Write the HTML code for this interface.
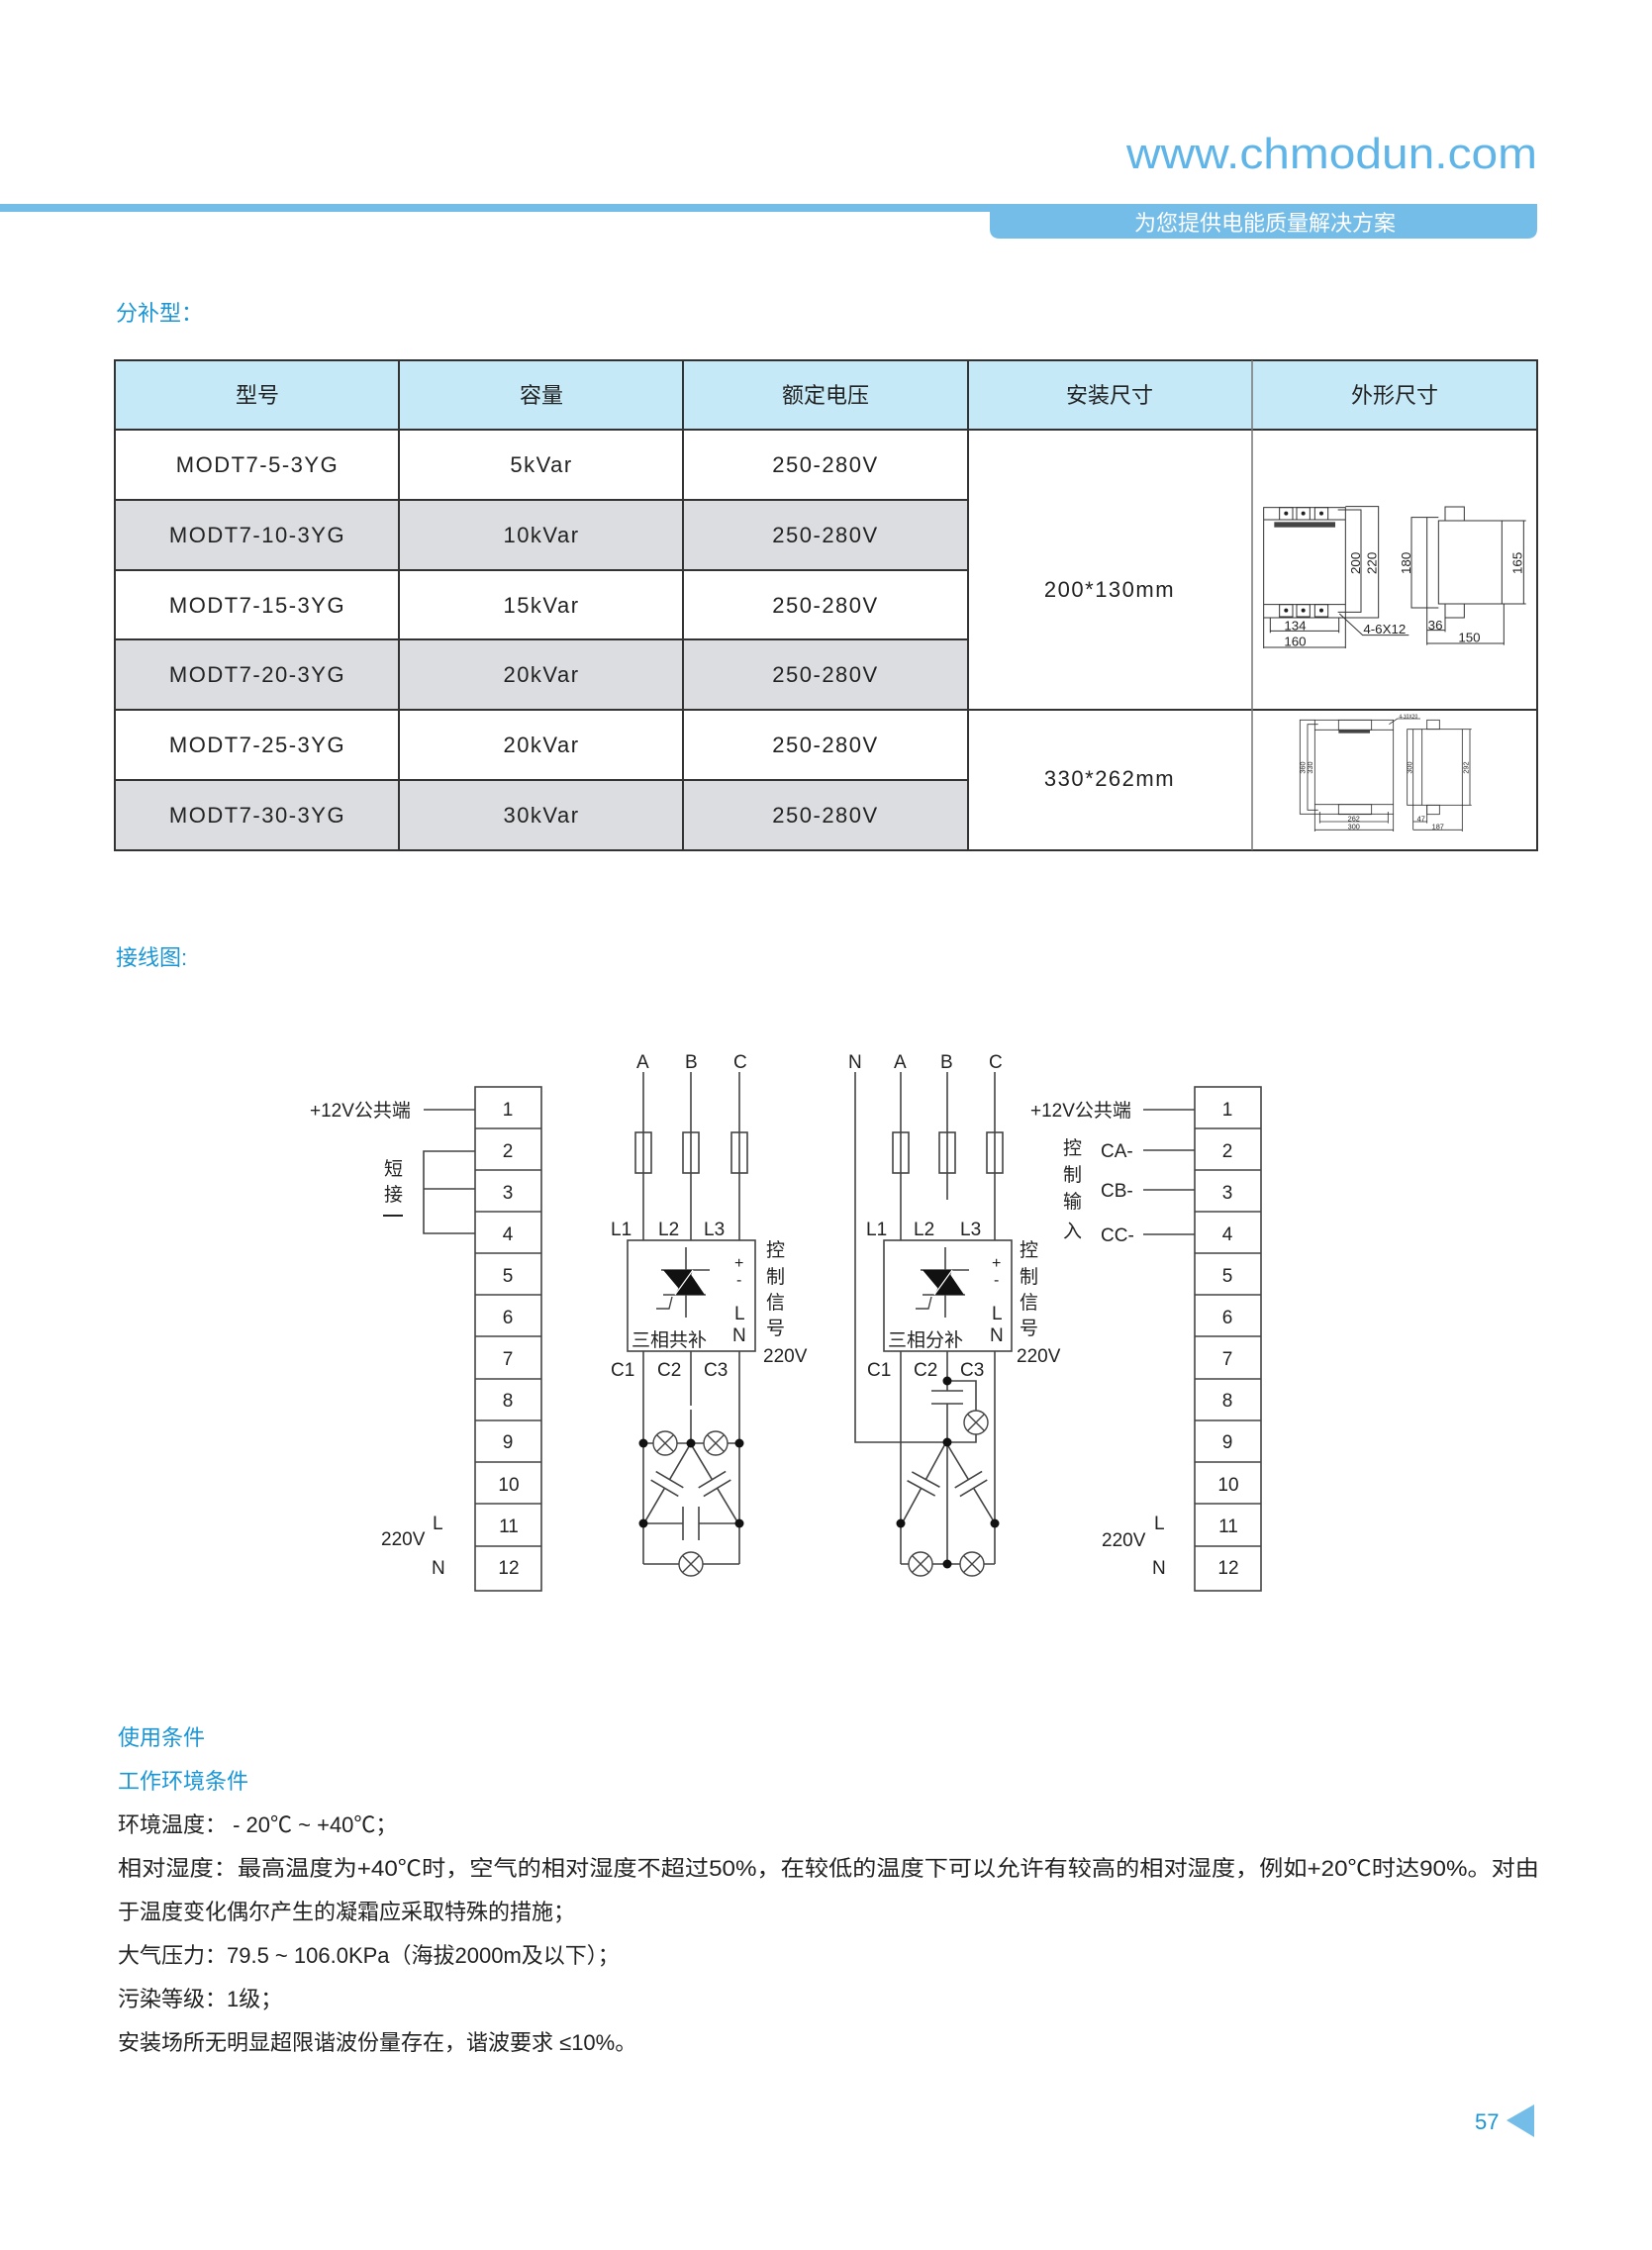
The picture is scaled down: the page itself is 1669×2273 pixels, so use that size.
<!DOCTYPE html>
<html><head><meta charset="utf-8"><style>
html,body{margin:0;padding:0;background:#fff;}
svg{display:block;}
text{font-family:"Liberation Sans","Noto Sans CJK SC",sans-serif;}
</style></head><body>
<svg width="1669" height="2273" viewBox="0 0 1669 2273" xmlns="http://www.w3.org/2000/svg">
<!-- header -->
<text x="1553" y="170" font-size="44" fill="#5fb5e8" text-anchor="end" textLength="415" lengthAdjust="spacingAndGlyphs">www.chmodun.com</text>
<rect x="0" y="206" width="1553" height="8" fill="#74bde8"/>
<path d="M1000 206 H1553 V231 Q1553 241 1543 241 H1010 Q1000 241 1000 231 Z" fill="#74bde8"/>
<text x="1278" y="233" font-size="22" fill="#fff" text-anchor="middle">为您提供电能质量解决方案</text>

<text x="117" y="324" font-size="22" fill="#1a96d6">分补型：</text>

<!-- table -->
<rect x="116" y="364" width="1437" height="70" fill="#c6e9f8"/>
<rect x="116" y="505" width="862" height="71" fill="#dcdde0"/>
<rect x="116" y="646" width="862" height="71" fill="#dcdde0"/>
<rect x="116" y="788" width="862" height="71" fill="#dcdde0"/>
<g stroke="#333" stroke-width="2" fill="none">
<rect x="116" y="364" width="1437" height="495"/>
<line x1="116" y1="434" x2="1553" y2="434"/>
<line x1="116" y1="505" x2="978" y2="505"/>
<line x1="116" y1="576" x2="978" y2="576"/>
<line x1="116" y1="646" x2="978" y2="646"/>
<line x1="116" y1="717" x2="1553" y2="717"/>
<line x1="116" y1="788" x2="978" y2="788"/>
<line x1="403" y1="364" x2="403" y2="859"/>
<line x1="690" y1="364" x2="690" y2="859"/>
<line x1="978" y1="364" x2="978" y2="859"/>
<line x1="1265" y1="364" x2="1265" y2="859" stroke-width="1.5" stroke="#777"/>
</g>
<g font-size="22" fill="#222" text-anchor="middle">
<text x="260" y="407">型号</text><text x="547" y="407">容量</text><text x="834" y="407">额定电压</text><text x="1121" y="407">安装尺寸</text><text x="1409" y="407">外形尺寸</text>
</g>
<g font-size="22" fill="#222" text-anchor="middle" letter-spacing="1.5">
<text x="260" y="477">MODT7-5-3YG</text><text x="547" y="477">5kVar</text><text x="834" y="477">250-280V</text>
<text x="260" y="548">MODT7-10-3YG</text><text x="547" y="548">10kVar</text><text x="834" y="548">250-280V</text>
<text x="260" y="619">MODT7-15-3YG</text><text x="547" y="619">15kVar</text><text x="834" y="619">250-280V</text>
<text x="260" y="689">MODT7-20-3YG</text><text x="547" y="689">20kVar</text><text x="834" y="689">250-280V</text>
<text x="260" y="760">MODT7-25-3YG</text><text x="547" y="760">20kVar</text><text x="834" y="760">250-280V</text>
<text x="260" y="831">MODT7-30-3YG</text><text x="547" y="831">30kVar</text><text x="834" y="831">250-280V</text>
<text x="1121" y="603">200*130mm</text>
<text x="1121" y="794">330*262mm</text>
</g>

<!-- drawing 1 -->
<svg x="1260" y="500" width="300" height="180" viewBox="0 0 900 540">
<g stroke="#333" stroke-width="3" fill="none">
<rect x="50" y="38" width="248" height="334"/>
<line x1="50" y1="75" x2="298" y2="75"/><line x1="50" y1="332" x2="298" y2="332"/>
<rect x="98" y="38" width="40" height="37"/><rect x="150" y="38" width="40" height="37"/><rect x="205" y="38" width="40" height="37"/>
<rect x="98" y="332" width="40" height="37"/><rect x="150" y="332" width="40" height="37"/><rect x="205" y="332" width="40" height="37"/>
<polyline points="275,45 345,45 345,355 275,355"/>
<polyline points="298,35 398,35 398,372 298,372"/>
<line x1="70" y1="372" x2="70" y2="418"/><line x1="278" y1="372" x2="278" y2="418"/><line x1="70" y1="412" x2="278" y2="412"/>
<line x1="50" y1="372" x2="50" y2="465"/><line x1="298" y1="372" x2="298" y2="465"/><line x1="50" y1="462" x2="298" y2="462"/>
<polyline points="280,360 350,425 490,425"/>
<rect x="580" y="78" width="192" height="252"/>
<rect x="600" y="36" width="58" height="42"/><rect x="600" y="330" width="58" height="42"/>
<polyline points="580,68 498,68 498,342 580,342"/>
<line x1="545" y1="68" x2="545" y2="455"/>
<line x1="772" y1="78" x2="845" y2="78"/><line x1="772" y1="330" x2="845" y2="330"/><line x1="838" y1="78" x2="838" y2="330"/>
<line x1="545" y1="410" x2="600" y2="410"/><line x1="600" y1="372" x2="600" y2="415"/>
<line x1="545" y1="450" x2="778" y2="450"/><line x1="778" y1="330" x2="778" y2="455"/>
</g>
<rect x="82" y="82" width="185" height="16" fill="#444"/>
<g fill="#222"><circle cx="118" cy="56" r="6"/><circle cx="170" cy="56" r="6"/><circle cx="225" cy="56" r="6"/><circle cx="118" cy="350" r="6"/><circle cx="170" cy="350" r="6"/><circle cx="225" cy="350" r="6"/></g>
<g font-size="40" fill="#222">
<text x="112" y="410">134</text><text x="112" y="458">160</text><text x="352" y="420">4-6X12</text><text x="548" y="408">36</text><text x="640" y="446">150</text>
<text transform="translate(342,240) rotate(-90)">200</text><text transform="translate(392,240) rotate(-90)">220</text>
<text transform="translate(495,240) rotate(-90)">180</text><text transform="translate(832,240) rotate(-90)">165</text>
</g>
</svg>

<!-- drawing 2 -->
<svg x="1265" y="710" width="290" height="145" viewBox="0 0 870 435">
<g stroke="#333" stroke-width="2.5" fill="none">
<rect x="190" y="52" width="238" height="285"/>
<line x1="190" y1="82" x2="428" y2="82"/><line x1="190" y1="308" x2="428" y2="308"/>
<rect x="262" y="52" width="100" height="30"/><rect x="262" y="308" width="100" height="30"/>
<polyline points="200,65 168,65 168,325 200,325"/>
<polyline points="190,52 145,52 145,337 190,337"/>
<line x1="205" y1="360" x2="412" y2="360"/><line x1="205" y1="330" x2="205" y2="365"/><line x1="412" y1="330" x2="412" y2="365"/>
<line x1="190" y1="385" x2="428" y2="385"/><line x1="190" y1="337" x2="190" y2="390"/><line x1="428" y1="337" x2="428" y2="390"/>
<polyline points="415,65 440,48 510,48"/>
<rect x="515" y="80" width="122" height="230"/>
<rect x="530" y="52" width="38" height="28"/><rect x="530" y="310" width="38" height="28"/>
<polyline points="515,80 470,80 470,310 515,310"/>
<line x1="488" y1="80" x2="488" y2="385"/>
<line x1="637" y1="80" x2="665" y2="80"/><line x1="637" y1="310" x2="665" y2="310"/><line x1="660" y1="80" x2="660" y2="310"/>
<line x1="488" y1="385" x2="637" y2="385"/><line x1="637" y1="310" x2="637" y2="390"/>
<line x1="488" y1="360" x2="530" y2="360"/><line x1="530" y1="310" x2="530" y2="365"/>
</g>
<rect x="262" y="82" width="95" height="10" fill="#444"/>
<g font-size="22" fill="#222">
<text x="290" y="358">262</text><text x="290" y="383">300</text><text x="500" y="358">47</text><text x="545" y="383">187</text><text x="445" y="46" font-size="15">4-10X20</text>
<text transform="translate(160,215) rotate(-90)">360</text><text transform="translate(183,215) rotate(-90)">330</text>
<text transform="translate(485,215) rotate(-90)">300</text><text transform="translate(655,215) rotate(-90)">292</text>
</g>
</svg>

<text x="117" y="975" font-size="22" fill="#1a96d6">接线图:</text>

<!-- wiring diagram -->
<g stroke="#444" stroke-width="1.6" fill="none">
<rect x="480" y="1098" width="67" height="509"/>
<line x1="480" y1="1140" x2="547" y2="1140"/><line x1="480" y1="1182" x2="547" y2="1182"/><line x1="480" y1="1224" x2="547" y2="1224"/>
<line x1="480" y1="1266" x2="547" y2="1266"/><line x1="480" y1="1308" x2="547" y2="1308"/><line x1="480" y1="1350" x2="547" y2="1350"/>
<line x1="480" y1="1393" x2="547" y2="1393"/><line x1="480" y1="1435" x2="547" y2="1435"/><line x1="480" y1="1477" x2="547" y2="1477"/>
<line x1="480" y1="1519" x2="547" y2="1519"/><line x1="480" y1="1562" x2="547" y2="1562"/>
<line x1="428" y1="1121" x2="480" y2="1121"/>
<polyline points="480,1163 428,1163 428,1246 480,1246"/><line x1="428" y1="1201" x2="480" y2="1201"/>
<rect x="1207" y="1098" width="67" height="509"/>
<line x1="1207" y1="1140" x2="1274" y2="1140"/><line x1="1207" y1="1182" x2="1274" y2="1182"/><line x1="1207" y1="1224" x2="1274" y2="1224"/>
<line x1="1207" y1="1266" x2="1274" y2="1266"/><line x1="1207" y1="1308" x2="1274" y2="1308"/><line x1="1207" y1="1350" x2="1274" y2="1350"/>
<line x1="1207" y1="1393" x2="1274" y2="1393"/><line x1="1207" y1="1435" x2="1274" y2="1435"/><line x1="1207" y1="1477" x2="1274" y2="1477"/>
<line x1="1207" y1="1519" x2="1274" y2="1519"/><line x1="1207" y1="1562" x2="1274" y2="1562"/>
<line x1="1155" y1="1121" x2="1207" y2="1121"/><line x1="1155" y1="1162" x2="1207" y2="1162"/><line x1="1155" y1="1202" x2="1207" y2="1202"/><line x1="1155" y1="1247" x2="1207" y2="1247"/>

<line x1="650" y1="1083" x2="650" y2="1253"/><line x1="698" y1="1083" x2="698" y2="1253"/><line x1="747" y1="1083" x2="747" y2="1253"/>
<rect x="642" y="1144" width="16" height="41"/><rect x="690" y="1144" width="16" height="41"/><rect x="739" y="1144" width="16" height="41"/>
<rect x="634" y="1253" width="129" height="112"/>
<line x1="650" y1="1365" x2="650" y2="1580"/><line x1="747" y1="1365" x2="747" y2="1580"/>
<line x1="698" y1="1365" x2="698" y2="1420"/><line x1="698" y1="1424" x2="698" y2="1458"/>
<line x1="650" y1="1458" x2="747" y2="1458"/>
<line x1="650" y1="1539" x2="690" y2="1539"/><line x1="706" y1="1539" x2="747" y2="1539"/>
<line x1="690" y1="1522" x2="690" y2="1556"/><line x1="706" y1="1522" x2="706" y2="1556"/>
<line x1="650" y1="1580" x2="747" y2="1580"/>
<g transform="translate(674,1499) rotate(120.3)"><line x1="-47" y1="0" x2="-5" y2="0"/><line x1="5" y1="0" x2="47" y2="0"/><line x1="-5" y1="-16" x2="-5" y2="16"/><line x1="5" y1="-16" x2="5" y2="16"/></g>
<g transform="translate(722,1499) rotate(59.1)"><line x1="-47" y1="0" x2="-5" y2="0"/><line x1="5" y1="0" x2="47" y2="0"/><line x1="-5" y1="-16" x2="-5" y2="16"/><line x1="5" y1="-16" x2="5" y2="16"/></g>

<polyline points="864,1083 864,1457 955,1457"/>
<line x1="910" y1="1083" x2="910" y2="1253"/><line x1="957" y1="1083" x2="957" y2="1212"/><line x1="1005" y1="1083" x2="1005" y2="1253"/>
<rect x="902" y="1144" width="16" height="41"/><rect x="949" y="1144" width="16" height="41"/><rect x="997" y="1144" width="16" height="41"/>
<rect x="893" y="1253" width="129" height="112"/>
<line x1="910" y1="1365" x2="910" y2="1580"/><line x1="1005" y1="1365" x2="1005" y2="1580"/>
<line x1="957" y1="1365" x2="957" y2="1405"/><line x1="957" y1="1418" x2="957" y2="1580"/>
<line x1="941" y1="1405" x2="973" y2="1405"/><line x1="941" y1="1418" x2="973" y2="1418"/>
<polyline points="957,1395 986,1395 986,1425"/><polyline points="986,1449 986,1457 955,1457"/>
<line x1="910" y1="1580" x2="1005" y2="1580"/>
<g transform="translate(933,1499) rotate(118.5)"><line x1="-47" y1="0" x2="-5" y2="0"/><line x1="5" y1="0" x2="47" y2="0"/><line x1="-5" y1="-16" x2="-5" y2="16"/><line x1="5" y1="-16" x2="5" y2="16"/></g>
<g transform="translate(981,1499) rotate(58.9)"><line x1="-47" y1="0" x2="-5" y2="0"/><line x1="5" y1="0" x2="47" y2="0"/><line x1="-5" y1="-16" x2="-5" y2="16"/><line x1="5" y1="-16" x2="5" y2="16"/></g>
</g>

<g id="thy">
<line x1="693" y1="1260" x2="693" y2="1331" stroke="#444" stroke-width="1.6"/>
<line x1="668" y1="1283" x2="717" y2="1283" stroke="#444" stroke-width="1.6"/>
<line x1="670" y1="1308" x2="713" y2="1308" stroke="#444" stroke-width="1.6"/>
<polygon points="670,1283 700,1283 691,1308" fill="#111"/>
<polygon points="695,1283 712,1308 682,1308" fill="#111"/>
<line x1="700" y1="1283" x2="682" y2="1308" stroke="#fff" stroke-width="1.2"/>
<polyline points="679,1310 676,1322 663,1322" stroke="#444" stroke-width="1.4" fill="none"/>
</g>
<use href="#thy" transform="translate(262,0)"/>

<g stroke="#444" stroke-width="1.4" fill="#fff">
<g transform="translate(672,1458)"><circle r="12"/><line x1="-8.5" y1="-8.5" x2="8.5" y2="8.5"/><line x1="-8.5" y1="8.5" x2="8.5" y2="-8.5"/></g>
<g transform="translate(723,1458)"><circle r="12"/><line x1="-8.5" y1="-8.5" x2="8.5" y2="8.5"/><line x1="-8.5" y1="8.5" x2="8.5" y2="-8.5"/></g>
<g transform="translate(698,1580)"><circle r="12"/><line x1="-8.5" y1="-8.5" x2="8.5" y2="8.5"/><line x1="-8.5" y1="8.5" x2="8.5" y2="-8.5"/></g>
<g transform="translate(986,1437)"><circle r="12"/><line x1="-8.5" y1="-8.5" x2="8.5" y2="8.5"/><line x1="-8.5" y1="8.5" x2="8.5" y2="-8.5"/></g>
<g transform="translate(930,1580)"><circle r="12"/><line x1="-8.5" y1="-8.5" x2="8.5" y2="8.5"/><line x1="-8.5" y1="8.5" x2="8.5" y2="-8.5"/></g>
<g transform="translate(982,1580)"><circle r="12"/><line x1="-8.5" y1="-8.5" x2="8.5" y2="8.5"/><line x1="-8.5" y1="8.5" x2="8.5" y2="-8.5"/></g>
</g>
<g fill="#111">
<circle cx="650" cy="1458" r="4.5"/><circle cx="698" cy="1458" r="4.5"/><circle cx="747" cy="1458" r="4.5"/>
<circle cx="650" cy="1539" r="4.5"/><circle cx="747" cy="1539" r="4.5"/>
<circle cx="957" cy="1395" r="4.5"/><circle cx="957" cy="1457" r="4.5"/>
<circle cx="910" cy="1539" r="4.5"/><circle cx="1005" cy="1539" r="4.5"/><circle cx="957" cy="1580" r="4.5"/>
</g>

<g font-size="19" fill="#222">
<text x="313" y="1128">+12V公共端</text>
<text x="388" y="1187">短</text><text x="388" y="1213">接</text>
<text x="1041" y="1128">+12V公共端</text>
<text x="1112" y="1169">CA-</text><text x="1112" y="1209">CB-</text><text x="1112" y="1254">CC-</text>
<text x="1074" y="1166">控</text><text x="1074" y="1193">制</text><text x="1074" y="1220">输</text><text x="1074" y="1250">入</text>
<text x="385" y="1561">220V</text><text x="437" y="1545">L</text><text x="436" y="1590">N</text>
<text x="1113" y="1562">220V</text><text x="1166" y="1545">L</text><text x="1164" y="1590">N</text>
<text x="643" y="1079">A</text><text x="692" y="1079">B</text><text x="741" y="1079">C</text>
<text x="617" y="1248">L1</text><text x="665" y="1248">L2</text><text x="711" y="1248">L3</text>
<text x="742" y="1281" font-size="16">+</text><text x="744" y="1298" font-size="16">-</text>
<text x="742" y="1333">L</text><text x="740" y="1355">N</text>
<text x="638" y="1360">三相共补</text>
<text x="774" y="1269">控</text><text x="774" y="1296">制</text><text x="774" y="1322">信</text><text x="774" y="1348">号</text>
<text x="771" y="1376">220V</text>
<text x="617" y="1390">C1</text><text x="664" y="1390">C2</text><text x="711" y="1390">C3</text>
<text x="857" y="1079">N</text><text x="903" y="1079">A</text><text x="950" y="1079">B</text><text x="999" y="1079">C</text>
<text x="875" y="1248">L1</text><text x="923" y="1248">L2</text><text x="970" y="1248">L3</text>
<text x="1002" y="1281" font-size="16">+</text><text x="1004" y="1298" font-size="16">-</text>
<text x="1002" y="1333">L</text><text x="1000" y="1355">N</text>
<text x="897" y="1360">三相分补</text>
<text x="1030" y="1269">控</text><text x="1030" y="1296">制</text><text x="1030" y="1322">信</text><text x="1030" y="1348">号</text>
<text x="1027" y="1376">220V</text>
<text x="876" y="1390">C1</text><text x="923" y="1390">C2</text><text x="970" y="1390">C3</text>
</g>
<line x1="387" y1="1228" x2="407" y2="1228" stroke="#222" stroke-width="2"/>
<g font-size="19" fill="#222" text-anchor="middle">
<text x="513" y="1127">1</text><text x="513" y="1169">2</text><text x="513" y="1211">3</text><text x="513" y="1253">4</text><text x="513" y="1295">5</text><text x="513" y="1337">6</text>
<text x="513" y="1379">7</text><text x="513" y="1421">8</text><text x="513" y="1463">9</text><text x="514" y="1506">10</text><text x="514" y="1548">11</text><text x="514" y="1590">12</text>
<text x="1240" y="1127">1</text><text x="1240" y="1169">2</text><text x="1240" y="1211">3</text><text x="1240" y="1253">4</text><text x="1240" y="1295">5</text><text x="1240" y="1337">6</text>
<text x="1240" y="1379">7</text><text x="1240" y="1421">8</text><text x="1240" y="1463">9</text><text x="1241" y="1506">10</text><text x="1241" y="1548">11</text><text x="1241" y="1590">12</text>
</g>

<g font-size="22">
<text x="119" y="1763" fill="#1a96d6">使用条件</text>
<text x="119" y="1807" fill="#1a96d6">工作环境条件</text>
<g fill="#222">
<text x="119" y="1851">环境温度： - 20℃ ~ +40℃；</text>
<text x="119" y="1895" textLength="1436" lengthAdjust="spacingAndGlyphs">相对湿度：最高温度为+40℃时，空气的相对湿度不超过50%，在较低的温度下可以允许有较高的相对湿度，例如+20℃时达90%。对由</text>
<text x="119" y="1939">于温度变化偶尔产生的凝霜应采取特殊的措施；</text>
<text x="119" y="1983">大气压力：79.5 ~ 106.0KPa（海拔2000m及以下）；</text>
<text x="119" y="2027">污染等级：1级；</text>
<text x="119" y="2071">安装场所无明显超限谐波份量存在，谐波要求 ≤10%。</text>
</g>
</g>

<text x="1490" y="2151" font-size="22" fill="#1a96d6">57</text>
<polygon points="1522,2142 1550,2126 1550,2159" fill="#74bde8"/>
</svg>
</body></html>
